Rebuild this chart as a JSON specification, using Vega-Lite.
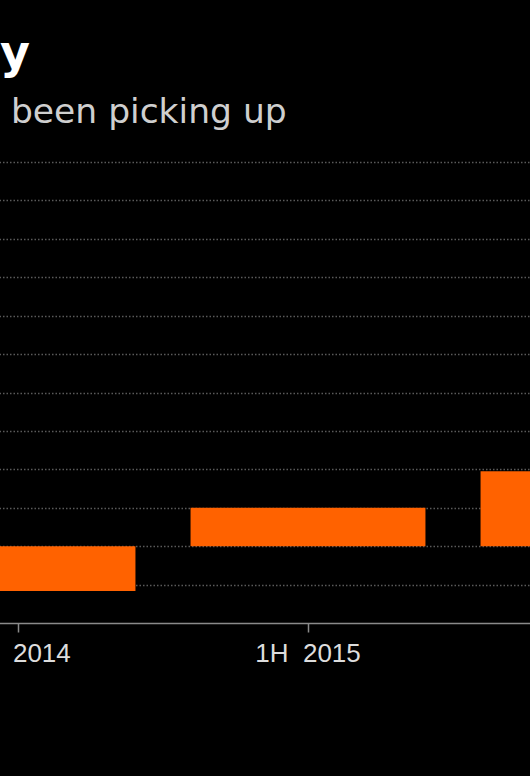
{
  "$schema": "https://vega.github.io/schema/vega-lite/v6.json",
  "autosize": {"type": "none"},
  "padding": {"top": 162, "left": 0, "right": 0, "bottom": 153},
  "width": 530,
  "height": 461,
  "background": "#000000",
  "title": {
    "text": "y",
    "subtitle": "\u200b\u00a0been picking up",
    "anchor": "start",
    "frame": "group",
    "color": "#ffffff",
    "font": "DejaVu Sans",
    "fontSize": 46,
    "fontWeight": "bold",
    "subtitleColor": "#cfcfcf",
    "subtitleFont": "DejaVu Sans",
    "subtitleFontSize": 34.5,
    "subtitleFontWeight": "normal",
    "subtitlePadding": 18,
    "offset": 32
  },
  "data": {
    "values": [
      {"period": "2H 2014", "low": 0.83, "high": 2.0},
      {"period": "1H 2015", "low": 2.0, "high": 3.0},
      {"period": "2H 2015", "low": 2.0, "high": 3.95}
    ]
  },
  "mark": {"type": "bar", "color": "#ff6200"},
  "encoding": {
    "x": {
      "field": "period",
      "type": "ordinal",
      "sort": null,
      "scale": {"range": [-127, 743], "paddingInner": 0.19, "paddingOuter": 0.095},
      "axis": {
        "title": null,
        "labelAngle": 0,
        "domainColor": "#8a8a8a",
        "domainWidth": 1.5,
        "tickColor": "#8a8a8a",
        "tickWidth": 1.5,
        "tickSize": 9,
        "labelPadding": 8,
        "labelColor": "#dddddd",
        "labelFont": "Liberation Sans",
        "labelFontSize": 26,
        "labelExpr": "replace(datum.label, ' ', '\u00a0\u00a0')",
        "grid": false
      }
    },
    "y": {
      "field": "low",
      "type": "quantitative",
      "scale": {"domain": [0, 12], "nice": false},
      "axis": {
        "title": null,
        "values": [1, 2, 3, 4, 5, 6, 7, 8, 9, 10, 11, 12],
        "labels": false,
        "ticks": false,
        "domain": false,
        "grid": true,
        "gridColor": "#5a5a5a",
        "gridDash": [1.5, 2],
        "gridWidth": 1.5
      }
    },
    "y2": {"field": "high"}
  },
  "config": {"view": {"stroke": null}}
}
